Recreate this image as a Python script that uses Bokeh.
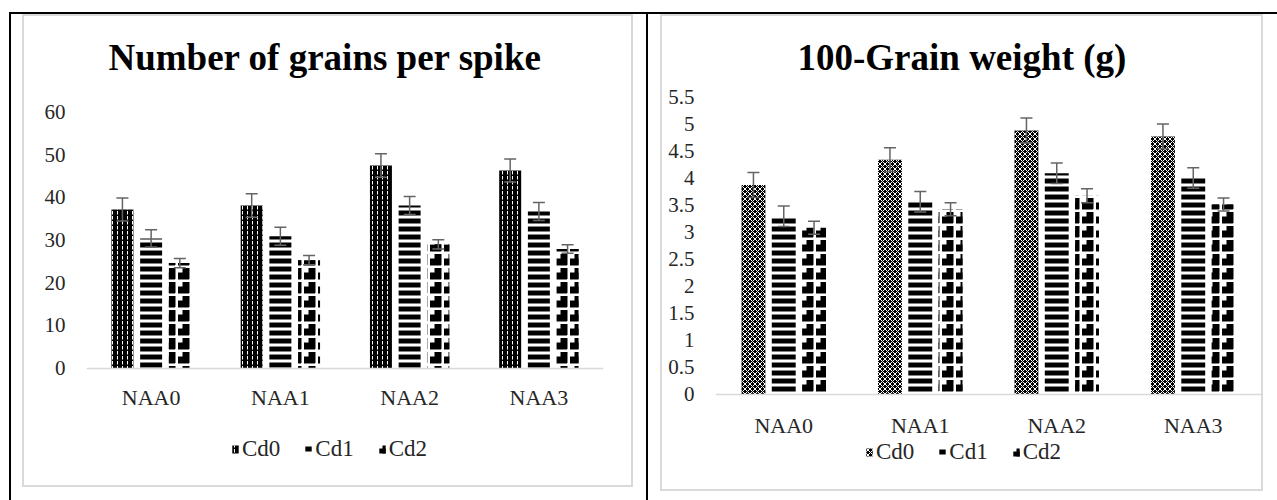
from bokeh.plotting import figure
from bokeh.models import (ColumnDataSource, FactorRange, Range1d, Whisker, TeeHead, Legend,
                          LegendItem, FixedTicker)
from bokeh.transform import dodge
from bokeh.embed import file_html
from bokeh.resources import INLINE

# ---------------- data ----------------
categories = ["NAA0", "NAA1", "NAA2", "NAA3"]
series = ["Cd0", "Cd1", "Cd2"]

grains_title = "Number of grains per spike"
grains_cd0 = [37.2, 38.1, 47.5, 46.3]
grains_cd1 = [30.4, 30.9, 38.1, 36.7]
grains_cd2 = [24.6, 25.3, 29.0, 27.9]
grains_err_cd0 = [2.7, 2.75, 2.75, 2.7]
grains_err_cd1 = [2.0, 2.1, 2.1, 2.1]
grains_err_cd2 = [1.1, 1.1, 1.1, 1.0]
grains_ymax = 60
grains_yticks = [0, 10, 20, 30, 40, 50, 60]
grains_ytick_labels = ["0", "10", "20", "30", "40", "50", "60"]

weight_title = "100-Grain weight (g)"
weight_cd0 = [3.87, 4.34, 4.88, 4.77]
weight_cd1 = [3.29, 3.56, 4.09, 4.00]
weight_cd2 = [3.08, 3.42, 3.67, 3.51]
weight_err_cd0 = [0.23, 0.22, 0.23, 0.23]
weight_err_cd1 = [0.19, 0.19, 0.19, 0.19]
weight_err_cd2 = [0.12, 0.12, 0.13, 0.12]
weight_ymax = 5.5
weight_yticks = [0, 0.5, 1, 1.5, 2, 2.5, 3, 3.5, 4, 4.5, 5, 5.5]
weight_ytick_labels = ["0", "0.5", "1", "1.5", "2", "2.5", "3", "3.5", "4", "4.5", "5", "5.5"]

# ---------------- styles ----------------
FONT = "Liberation Serif"
TEXT = "#262626"
GRAY = "#d9d9d9"
ERR = "#646464"

CD0_LEFT = [dict(fill_color="black", hatch_pattern="vertical_dash", hatch_color="white",
                 hatch_scale=5, hatch_weight=1)]
CD0_RIGHT = [dict(fill_color="black", hatch_pattern="diagonal_cross", hatch_color="white",
                  hatch_scale=5, hatch_weight=1)]
CD1 = [dict(fill_color="white", hatch_pattern="horizontal_line", hatch_color="black",
            hatch_scale=8, hatch_weight=5)]
CD2 = [dict(fill_color="white", hatch_pattern="horizontal_dash", hatch_color="black",
            hatch_scale=14, hatch_weight=7),
       dict(fill_alpha=0, hatch_pattern="vertical_dash", hatch_color="black",
            hatch_scale=14, hatch_weight=7)]


def make_chart(name, title, vals, errs, y_max, yticks, ylabels, cd0_style, width, height,
               mb, zero_px, max_px, bar_w, title_offset, title_standoff, x_standoff, leg_loc):
    # layout geometry (pixels inside the canvas): the frame runs a little above y_max
    # (room for nothing but the title panel) and below zero (room for the legend)
    frame_top = mb[2]
    frame_bot = height - mb[3]
    k = (zero_px - max_px) / y_max
    y_end = y_max + (max_px - frame_top) / k
    y_start = -(frame_bot - zero_px) / k
    p = figure(name=name, x_range=FactorRange(*categories, range_padding=0),
               y_range=Range1d(y_start, y_end), width=width, height=height,
               output_backend="svg", toolbar_location=None,
               min_border_left=mb[0], min_border_right=mb[1],
               min_border_top=mb[2], min_border_bottom=mb[3])
    p.outline_line_color = None
    p.xgrid.grid_line_color = None
    p.ygrid.grid_line_color = None

    p.title.text = title
    p.title.align = "left"
    p.title.text_font = FONT
    p.title.text_font_style = "bold"
    p.title.text_font_size = "37px"
    p.title.text_color = "#000000"
    p.title.offset = title_offset
    p.title.standoff = title_standoff

    styles = [cd0_style, CD1, CD2]
    offsets = [-0.222, 0.0, 0.222]
    items = []
    for i, sname in enumerate(series):
        v = vals[i]
        e = errs[i]
        src = ColumnDataSource(dict(cat=categories, top=v,
                                    upper=[a + b for a, b in zip(v, e)],
                                    lower=[a - b for a, b in zip(v, e)]))
        rs = []
        for st in styles[i]:
            rs.append(p.vbar(x=dodge("cat", offsets[i], range=p.x_range), top="top",
                             width=bar_w, source=src, line_color=None, **st))
        items.append(LegendItem(label=sname, renderers=rs))
        w = Whisker(source=src, base=dodge("cat", offsets[i], range=p.x_range),
                    upper="upper", lower="lower", line_color=ERR, line_width=1.5,
                    upper_head=TeeHead(size=12, line_color=ERR, line_width=1.5),
                    lower_head=TeeHead(size=12, line_color=ERR, line_width=1.5),
                    level="overlay")
        p.add_layout(w)

    p.yaxis.ticker = FixedTicker(ticks=yticks)
    p.yaxis.major_label_overrides = {t: lab for t, lab in zip(yticks, ylabels)}
    p.yaxis.axis_line_color = None
    p.yaxis.major_tick_line_color = None
    p.yaxis.minor_tick_line_color = None
    p.yaxis.major_tick_out = 0
    p.yaxis.major_tick_in = 0
    p.yaxis.minor_tick_out = 0
    p.yaxis.major_label_standoff = 21
    p.yaxis.major_label_text_font = FONT
    p.yaxis.major_label_text_font_size = "21px"
    p.yaxis.major_label_text_color = TEXT

    p.xaxis.fixed_location = 0
    p.xaxis.axis_line_color = GRAY
    p.xaxis.axis_line_width = 1.5
    p.xaxis.major_tick_line_color = None
    p.xaxis.minor_tick_line_color = None
    p.xaxis.major_tick_out = 0
    p.xaxis.major_tick_in = 0
    p.xaxis.major_label_standoff = x_standoff
    p.xaxis.major_label_text_font = FONT
    p.xaxis.major_label_text_font_size = "22px"
    p.xaxis.major_label_text_color = TEXT

    leg = Legend(items=items, orientation="horizontal", location=leg_loc,
                 border_line_color=None, background_fill_alpha=0, padding=0, margin=0,
                 spacing=24, glyph_width=8, glyph_height=10, label_standoff=3,
                 label_text_font=FONT, label_text_font_size="23px",
                 label_text_color=TEXT)
    p.add_layout(leg)
    return p


# canvases start at page y=16; zero / max lines at page y 367.5 / 111.7 and 393.5 / 96.5
p1 = make_chart("grains", grains_title, [grains_cd0, grains_cd1, grains_cd2],
                [grains_err_cd0, grains_err_cd1, grains_err_cd2], grains_ymax,
                grains_yticks, grains_ytick_labels, CD0_LEFT, 607, 469,
                (62, 28, 78, 14), 351.5, 95.7, 0.17, 22, 34, 17, (145, 9))
p2 = make_chart("weight", weight_title, [weight_cd0, weight_cd1, weight_cd2],
                [weight_err_cd0, weight_err_cd1, weight_err_cd2], weight_ymax,
                weight_yticks, weight_ytick_labels, CD0_RIGHT, 599, 473,
                (53, 0, 78, 14), 377.5, 80.5, 0.175, 82, 34, 19, (150, 10))

# page frame: table rules and the two chart borders, as plain HTML around the two roots
TEMPLATE = """
{% from macros import embed %}
{% block postamble %}
<style>
  html, body { margin: 0; padding: 0; overflow: hidden; background: #ffffff; }
  .sheet { position: relative; width: 1277px; height: 500px; overflow: hidden; }
  .bl { position: absolute; background: #000000; }
  .gb { position: absolute; border: 2px solid #d9d9d9; box-sizing: content-box; }
</style>
{% endblock %}
{% block contents %}
<div class="sheet">
  <div class="bl" style="left:9px; top:12px; width:1268px; height:2px;"></div>
  <div class="bl" style="left:9px; top:12px; width:2px; height:488px;"></div>
  <div class="bl" style="left:646px; top:12px; width:2px; height:488px;"></div>
  <div class="gb" style="left:22px; top:14px; width:607px; height:469px;">{{ embed(roots.grains) }}</div>
  <div class="gb" style="left:660px; top:14px; width:599px; height:473px;">{{ embed(roots.weight) }}</div>
</div>
{% endblock %}
"""

open("out.html", "w").write(file_html([p1, p2], INLINE, template=TEMPLATE))
